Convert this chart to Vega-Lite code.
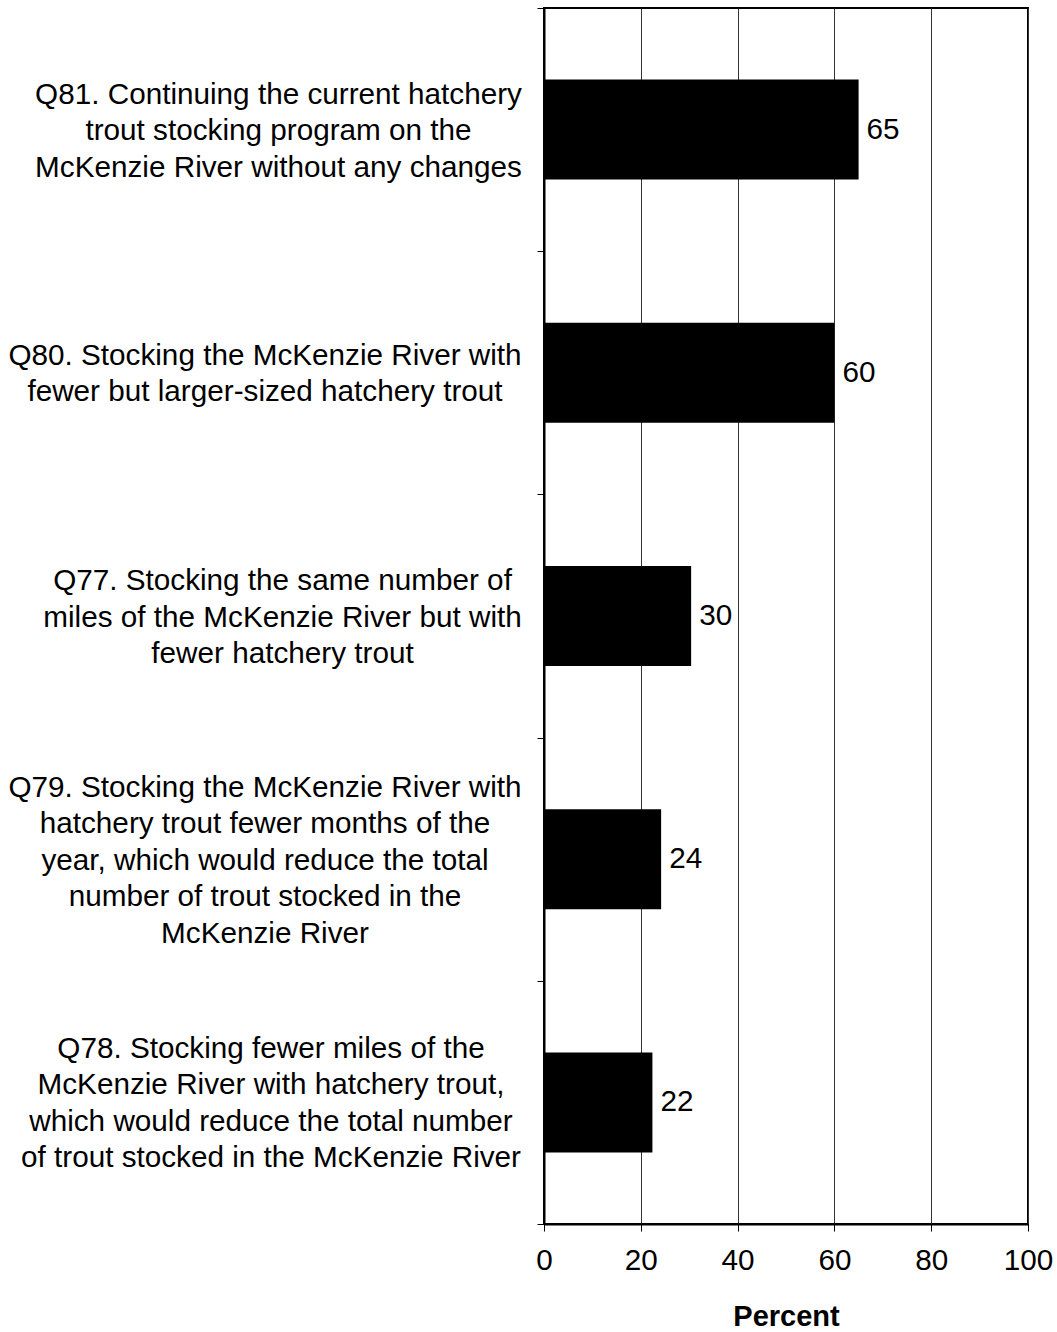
{
  "$schema": "https://vega.github.io/schema/vega-lite/v6.json",
  "autosize": "none",
  "width": 484,
  "height": 1216,
  "padding": {"left": 544, "top": 8, "right": 29, "bottom": 108},
  "background": "white",
  "data": {
    "values": [
      {"question": "Q81. Continuing the current hatchery|trout stocking program on the|McKenzie River without any changes", "pct": 65},
      {"question": "Q80. Stocking the McKenzie River with|fewer but larger-sized hatchery trout", "pct": 60},
      {"question": "Q77. Stocking the same number of|miles of the McKenzie River but with|fewer hatchery trout", "pct": 30.4},
      {"question": "Q79. Stocking the McKenzie River with|hatchery trout fewer months of the|year, which would reduce the total|number of trout stocked in the|McKenzie River", "pct": 24.2},
      {"question": "Q78. Stocking fewer miles of the|McKenzie River with hatchery trout,|which would reduce the total number|of trout stocked in the McKenzie River", "pct": 22.4}
    ]
  },
  "encoding": {
    "y": {
      "field": "question",
      "type": "nominal",
      "sort": null,
      "scale": {"paddingInner": 0, "paddingOuter": 0},
      "axis": {
        "title": null,
        "tickBand": "extent",
        "domainColor": "black",
        "domainWidth": 2,
        "tickColor": "black",
        "tickSize": 7,
        "tickWidth": 1,
        "labelExpr": "isValid(datum.value) ? split(datum.value, '|') : ''",
        "labelFont": "Liberation Sans",
        "labelFontSize": 29.7,
        "labelLineHeight": 36.5,
        "labelColor": "black",
        "labelAlign": "center",
        "labelBaseline": "middle",
        "labelLimit": 700,
        "labelBound": false,
        "labelOverlap": false,
        "labelOffset": {
          "condition": [
            {"test": "substring(datum.value, 0, 3) === 'Q80'", "value": -17.5},
            {"test": "substring(datum.value, 0, 3) === 'Q79'", "value": -72},
            {"test": "substring(datum.value, 0, 3) === 'Q78'", "value": -54},
            {"test": "substring(datum.value, 0, 3) === 'Q77'", "value": -35.5}
          ],
          "value": -35.5
        },
        "labelPadding": {
          "condition": [
            {"test": "substring(datum.value, 0, 3) === 'Q81'", "value": 259},
            {"test": "substring(datum.value, 0, 3) === 'Q77'", "value": 255},
            {"test": "substring(datum.value, 0, 3) === 'Q78'", "value": 266.5}
          ],
          "value": 272.5
        }
      }
    }
  },
  "layer": [
    {
      "mark": {"type": "bar", "color": "black", "height": {"band": 0.411}},
      "encoding": {
        "x": {
          "field": "pct",
          "type": "quantitative",
          "scale": {"domain": [0, 100], "nice": false},
          "axis": {
            "title": "Percent",
            "values": [0, 20, 40, 60, 80, 100],
            "grid": true,
            "gridColor": "#333",
            "gridWidth": 1,
            "domainColor": "black",
            "domainWidth": 2,
            "tickColor": "black",
            "tickSize": 7,
            "labelFont": "Liberation Sans",
            "labelFontSize": 29.7,
            "labelColor": "black",
            "labelPadding": 15,
            "labelFlush": false,
            "titleFont": "Liberation Sans",
            "titleFontSize": 29,
            "titleFontWeight": "bold",
            "titleColor": "black",
            "titlePadding": 28
          }
        }
      }
    },
    {
      "mark": {"type": "text", "align": "left", "baseline": "middle", "dx": 8, "font": "Liberation Sans", "fontSize": 29.7, "color": "black"},
      "encoding": {
        "x": {"field": "pct", "type": "quantitative"},
        "text": {"field": "pct", "type": "quantitative", "format": ".0f"}
      }
    }
  ],
  "config": {
    "view": {"stroke": "black", "strokeWidth": 2}
  }
}
